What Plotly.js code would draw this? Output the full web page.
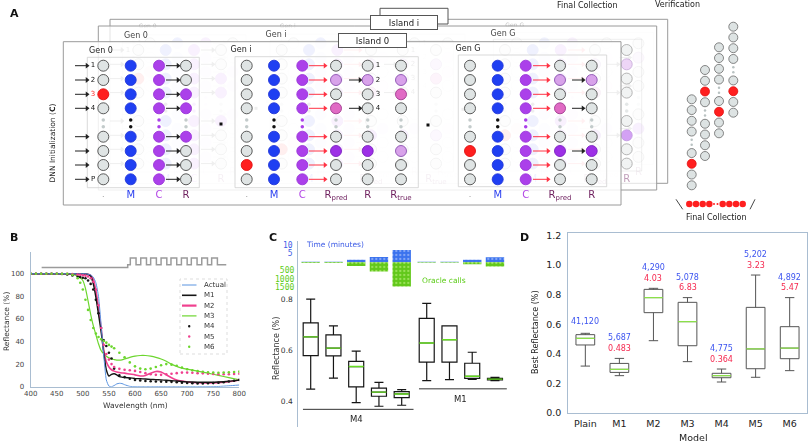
<!DOCTYPE html>
<html><head><meta charset="utf-8">
<script src="https://cdn.plot.ly/plotly-3.0.1.min.js"></script>
<style>html,body{margin:0;padding:0;background:#fff}#chart{width:808px;height:444px}</style>
</head><body><div id="chart"></div>
<script>
// ================= Panel B data =================
const wavelength = [400,450,480,490,500,505,510,515,520,525,530,535,540,545,550,555,560,565,570,575,580,590,600,610,620,630,640,650,660,670,680,690,700,720,740,760,780,800];
const reflActual = [100,100,100,100,100,100,99.5,99,97,92,80,55,28,6,0.5,0,1,2.5,3,2.8,1.8,0.3,0,0,0,0,0,0,0,0,0,0,0,0,0,0.2,0.8,1.5];
const reflM1 = [100,100,100,100,100,99.8,99.3,98,91,79,64,49,30,15,9.5,11,11.5,10.5,9,8.5,8.2,7.8,7.3,7,6.8,6.5,6.3,6,5.7,5.3,5,4.6,4.3,4,4,4.2,4.8,5.8];
const reflM2 = [100,100,100,100,100,99.8,99.5,98.5,95,85,70,52,33,22,17.5,15,13.8,13,12.5,12.2,12,11.2,10.5,9.5,10,12,13.5,13,10.5,8,6,5,4.2,3.5,3.3,3.6,4.5,6];
const reflM3 = [100,100,99.5,98,94,87,76,64,54,46,38,32,29,27,25.5,24.5,24,23.6,23.5,23.8,24.5,26,27,27.6,27.6,27,26,24.5,22.5,20,18,16.5,15.5,13.8,12,10,8,6];
const wavelengthDots = [400,410,420,430,440,450,460,470,480,490,495,500,505,510,515,520,525,530,535,540,545,550,555,560,570,580,590,600,610,620,630,640,650,660,670,680,690,700,710,720,730,740,750,760,770,780,790,800];
const reflM4 = [100,100,100,100,100,100,99.8,99.3,98.5,97.5,97,96.5,96,94,91,86,77,65,52,41,36,30,25,16,10,8.5,7,6,5.5,5,4.8,4.6,4.5,4.4,4.3,4,3.6,3.3,3,2.9,2.9,3,3.2,3.5,4,4.6,5.3,6];
const reflM5 = [100,100,100,100,100,100,100,100,99.7,99.3,99,98.7,98.3,97.5,96,93,86,72,52,37,29,24,20,17.5,15.8,15,14.5,14,13,12,11,10.5,10.5,11,11.5,12,12.5,12.5,12.3,12,11.8,11.5,11.3,11,11,11,11.2,11.5];
const reflM6 = [100,100,100,100,100,100,100,100,99,96,92,86,77,68,59,52,47,44,42,40.5,39,37,35.5,34,30,26,21.5,18,16,15.5,16,17.5,19,20,19.5,18.5,17,15.5,14.5,13.8,13.2,12.8,12.5,12.4,12.5,12.7,13,13.3];
const seriesNames = ['Actual','M1','M2','M3','M4','M5','M6'];
const seriesColors = ['#5b94e0','#151515','#f0408f','#6cd62e','#151515','#f0408f','#6cd62e'];
// layer structure sketch (wavelength axis)
const structFlatStart = 421, structStep = 586, structEnd = 775;
const structLevels = [105.5, 108, 114];
const structPulseStarts = [591, 611, 630, 650, 669, 689, 708, 728, 747];
const structPulseWidth = 11;

// ================= Panel C data =================
const groupC = ['M4','M1'];
const m4Low  = [0.449,0.492,0.396,0.382,0.386];
const m4Q1   = [0.580,0.579,0.458,0.421,0.416];
const m4Med  = [0.653,0.609,0.537,0.437,0.430];
const m4Q3   = [0.708,0.661,0.557,0.453,0.439];
const m4High = [0.800,0.696,0.597,0.475,0.447];
const m1Low  = [0.482,0.486,0.487,0.482];
const m1Q1   = [0.554,0.554,0.491,0.485];
const m1Med  = [0.629,0.642,0.499,0.488];
const m1Q3   = [0.725,0.696,0.550,0.491];
const m1High = [0.784,0.696,0.593,0.495];
const m4TimeMin = [0.3,0.35,1.5,3,7];
const m1TimeMin = [0.25,0.3,1.4,2.9];
const m4Calls = [35,40,220,560,1470];
const m1Calls = [25,30,120,250];

// ================= Panel D data =================
const modelsD = ['Plain','M1','M2','M3','M4','M5','M6'];
const dLow  = [0.316,0.251,0.488,0.346,0.208,0.240,0.285];
const dQ1   = [0.459,0.273,0.678,0.454,0.237,0.298,0.366];
const dMed  = [0.504,0.294,0.780,0.617,0.251,0.432,0.438];
const dQ3   = [0.529,0.334,0.836,0.748,0.267,0.714,0.583];
const dHigh = [0.538,0.368,0.843,0.780,0.296,0.933,0.780];
const dCalls = ['41,120','5,687','4,290','5,078','4,775','5,202','4,892'];
const dTimes = [null,'0.483','4.03','6.83','0.364','3.23','5.47'];

// ================= helpers =================
const W = 808, H = 444;
const fx = p => p / W;
const fy = p => 1 - p / H;
const FONT = 'DejaVu Sans, sans-serif';
const traces = [];
const shapes = [];
const annotations = [];
function note(o) { annotations.push(Object.assign({showarrow:false, xanchor:'center', yanchor:'middle'}, o)); }

// ================= Panel A (diagram, pixel-unit axes x4/y4) =================
const FILL = {g:'#dfe4e4', b:'#1f3ff2', p:'#ab40ea', r:'#ff1f1f', lp:'#d8a2ea', pk:'#e06ac4', P:'#9d2fe6', lg:'#c3cbcb', k:'#111111'};
const EDGE = {g:'#4a4a4a', b:'#2438d8', p:'#9a35d8', r:'#e01010', lp:'#8a50b0', pk:'#a03a90', P:'#7a20c0'};
const FOOTC = {'.':'#999','M':'#2a3ff0','C':'#b347e6','R':'#6e1f5e','R<sub>pred</sub>':'#6e1f5e','R<sub>true</sub>':'#6e1f5e'};
const rowY = [65.7, 80, 94.3, 108.3, 136.7, 151, 165, 179.3];
const dotRowY = [120, 126.7];
const footY = 195;
const ALL = [0,1,2,3,4,5,6,7];
const genBoxes = [
  {label:'Gen 0', lxy:[101,50.7], rect:[87.3,57.3,199.3,187.7],
   cols:[{x:103.3, fill:['g','g','r','g','g','g','g','g'], dots:'lg', foot:'.'},
         {x:130.7, fill:'b', dots:'k', foot:'M'},
         {x:159, fill:'p', dots:'p', foot:'C'},
         {x:186, fill:['g','g','p','p','p','g','g','g'], dots:'lg', foot:'R'}],
   arrows:[{x0:75,x1:89,rows:ALL,red:false},{x0:166,x1:180,rows:ALL,red:false}],
   rowLabels:{x:93, t:['1','2','3','4','','','','P'], c:['#111','#111','#ff2a2a','#111','#111','#111','#111','#111']}},
  {label:'Gen i', lxy:[241,50], rect:[235,56.7,418.3,187.7],
   cols:[{x:246.7, fill:['g','g','g','g','g','g','r','g'], dots:'lg', foot:'.'},
         {x:274, fill:'b', dots:'k', foot:'M'},
         {x:302.3, fill:'p', dots:'p', foot:'C'},
         {x:336, fill:['g','lp','g','pk','g','P','g','g'], dots:'lg', foot:'R<sub>pred</sub>'},
         {x:367.7, fill:['g','lp','g','g','g','P','g','g'], dots:'lg', foot:'R'},
         {x:401, fill:['g','lp','pk','g','g','lp','g','g'], dots:'lg', foot:'R<sub>true</sub>'}],
   arrows:[{x0:309,x1:327,rows:ALL,red:true},{x0:349,x1:362,rows:[1,3],red:false}],
   rowLabels:{x:378, t:['1','2','3','4','','','',''], c:['#111','#111','#111','#111','#111','#111','#111','#111']}},
  {label:'Gen G', lxy:[468,49.3], rect:[458.3,55,606.7,186.7],
   cols:[{x:470, fill:['g','g','g','g','g','r','g','g'], dots:'lg', foot:'.'},
         {x:497.7, fill:'b', dots:'k', foot:'M'},
         {x:525.7, fill:'p', dots:'p', foot:'C'},
         {x:560, fill:['g','lp','g','pk','g','P','g','g'], dots:'lg', foot:'R<sub>pred</sub>'},
         {x:591.7, fill:['g','lp','g','g','g','P','g','g'], dots:'lg', foot:'R'}],
   arrows:[{x0:533,x1:550,rows:ALL,red:true},{x0:572,x1:585,rows:[1,3,5],red:false}],
   rowLabels:null}
];
const looseDots = [[221,124],[428,125]];

function frameTraces(dx, dy, op, textOp, labelSize, labelDy) {
  const T = [];
  const bx=[], by=[], cx=[], cy=[], cc=[], cl=[], qx=[], qy=[], qc=[];
  const ks={x:[],y:[]}, kh={x:[],y:[]}, rs={x:[],y:[]}, rh={x:[],y:[]};
  const tx=[], ty=[], tt=[], tc=[], tsz=[];
  genBoxes.forEach(g => {
    const [x0,y0,x1,y1] = g.rect;
    bx.push(x0+dx,x1+dx,x1+dx,x0+dx,x0+dx,null); by.push(y0+dy,y0+dy,y1+dy,y1+dy,y0+dy,null);
    g.cols.forEach(c => {
      rowY.forEach((y,i) => {
        const k = Array.isArray(c.fill) ? c.fill[i] : c.fill;
        cx.push(c.x+dx); cy.push(y+dy); cc.push(FILL[k]); cl.push(EDGE[k]);
      });
      dotRowY.forEach(y => { qx.push(c.x+dx); qy.push(y+dy); qc.push(FILL[c.dots]); });
      tx.push(c.x+dx); ty.push(footY+dy); tt.push(c.foot); tc.push(FOOTC[c.foot]); tsz.push(c.foot==='.'?8:10);
    });
    g.arrows.forEach(a => {
      const S = a.red ? rs : ks, Hd = a.red ? rh : kh;
      a.rows.forEach(r => {
        const y = rowY[r]+dy;
        S.x.push(a.x0+dx, a.x1+dx-3, null); S.y.push(y, y, null);
        Hd.x.push(a.x1+dx-2); Hd.y.push(y);
      });
    });
    if (g.rowLabels) g.rowLabels.t.forEach((t,i) => {
      if (!t) return;
      tx.push(g.rowLabels.x+dx); ty.push(rowY[i]+dy); tt.push(t); tc.push(g.rowLabels.c[i]); tsz.push(7);
    });
  });
  const base = {xaxis:'x4', yaxis:'y4', hoverinfo:'skip', showlegend:false, opacity:op};
  T.push({...base, type:'scatter', mode:'lines', x:bx, y:by, line:{color:'#cfcfcf', width:0.8}});
  T.push({...base, type:'scatter', mode:'lines', x:ks.x, y:ks.y, line:{color:'#222', width:1}});
  T.push({...base, type:'scatter', mode:'markers', x:kh.x, y:kh.y, marker:{symbol:'triangle-right', size:5, color:'#222'}});
  T.push({...base, type:'scatter', mode:'lines', x:rs.x, y:rs.y, line:{color:'#ff3344', width:1}});
  T.push({...base, type:'scatter', mode:'markers', x:rh.x, y:rh.y, marker:{symbol:'triangle-right', size:5, color:'#ff3344'}});
  T.push({...base, type:'scatter', mode:'markers', x:cx, y:cy, marker:{size:11, color:cc, line:{color:cl, width:0.9}}});
  T.push({...base, type:'scatter', mode:'markers', x:qx, y:qy, marker:{size:3.5, color:qc}});
  T.push({...base, type:'scatter', mode:'markers', x:looseDots.map(d=>d[0]+dx), y:looseDots.map(d=>d[1]+dy), marker:{symbol:'square', size:3, color:'#111'}});
  T.push({...base, type:'scatter', mode:'text', x:tx, y:ty, text:tt, textposition:'middle center', textfont:{family:FONT, size:tsz, color:tc}});
  T.push({...base, opacity:textOp, type:'scatter', mode:'text', x:genBoxes.map(g=>g.lxy[0]+dx), y:genBoxes.map(g=>g.lxy[1]+dy+labelDy), text:genBoxes.map(g=>g.label), textposition:'middle center', textfont:{family:FONT, size:labelSize, color:'#222'}});
  return T;
}
function rectTrace(r, fill) {
  const [x0,y0,x1,y1] = r;
  return {type:'scatter', mode:'lines', xaxis:'x4', yaxis:'y4', x:[x0,x1,x1,x0,x0], y:[y0,y0,y1,y1,y0],
    fill:'toself', fillcolor:fill, line:{color:'#9a9a9a', width:1}, hoverinfo:'skip', showlegend:false};
}
traces.push(rectTrace([110,19.3,667.7,183.3], '#ffffff'));
traces.push(...frameTraces(46.7,-22.4,0.25,0.3,6,-1.5));
traces.push(rectTrace([98.3,26,656.7,190], 'rgba(255,255,255,0.72)'));
traces.push(...frameTraces(35,-15.7,0.45,0.85,8,0.5));
traces.push(rectTrace([63.3,41.7,621,205], 'rgba(255,255,255,0.84)'));
traces.push(...frameTraces(0,0,1,1,8,0));

// verification columns
const verX = [691.7, 705, 719, 733.3];
const verTop = [99.3, 70, 47.3, 26.7];
const verRedSlot = [6, 2, 6, 6];
const verSlots = 9, verDotSlot = 4, verGap = 10.75;
{
  const vx=[], vy=[], vc=[], vl=[], dx=[], dy=[];
  verX.forEach((x,ci) => {
    for (let s=0; s<verSlots; s++) {
      const y = verTop[ci] + s*verGap;
      if (s === verDotSlot) { dx.push(x,x); dy.push(y-2.5,y+2.5); continue; }
      const red = s === verRedSlot[ci];
      vx.push(x); vy.push(y); vc.push(red?'#ff1f1f':'#dde3e3'); vl.push(red?'#e01010':'#6a6a6a');
    }
  });
  traces.push({type:'scatter', mode:'markers', xaxis:'x4', yaxis:'y4', x:vx, y:vy, marker:{size:9, color:vc, line:{color:vl, width:0.8}}, hoverinfo:'skip', showlegend:false});
  traces.push({type:'scatter', mode:'markers', xaxis:'x4', yaxis:'y4', x:dx, y:dy, marker:{size:2.5, color:'#b9c2c2'}, hoverinfo:'skip', showlegend:false});
  traces.push({type:'scatter', mode:'lines', xaxis:'x4', yaxis:'y4', x:[676,682.7,null,755,750], y:[199.3,209.3,null,199.3,209.3], line:{color:'#333', width:0.9}, hoverinfo:'skip', showlegend:false});
  const fcX = [689.3,696,702.7,709.3,722.7,729.3,736,742.7];
  traces.push({type:'scatter', mode:'markers', xaxis:'x4', yaxis:'y4', x:fcX, y:fcX.map(()=>204), marker:{size:6.5, color:'#ff1f1f'}, hoverinfo:'skip', showlegend:false});
  traces.push({type:'scatter', mode:'markers', xaxis:'x4', yaxis:'y4', x:[714,717.5], y:[204,204], marker:{size:2, color:'#ff1f1f'}, hoverinfo:'skip', showlegend:false});
}
// island label boxes
shapes.push({type:'rect', xref:'x4', yref:'y4', x0:380, x1:448, y0:8.3, y1:24, line:{color:'#555', width:1}, fillcolor:'#fff', layer:'above'});
note({xref:'x4', yref:'y4', x:403.8, y:22, text:'Island i', font:{family:FONT, size:8.5, color:'#222'}, bgcolor:'#fff', bordercolor:'#555', borderwidth:1, width:64, height:11, borderpad:1});
note({xref:'x4', yref:'y4', x:372.3, y:40.8, text:'Island 0', font:{family:FONT, size:8.5, color:'#222'}, bgcolor:'#fff', bordercolor:'#555', borderwidth:1, width:65, height:11, borderpad:1});
note({xref:'x4', yref:'y4', x:51.5, y:143, text:'DNN Initialization (<b>C</b>)', textangle:-90, font:{family:FONT, size:7.5, color:'#222'}});
note({xref:'x4', yref:'y4', x:587.5, y:5.5, text:'Final Collection', font:{family:FONT, size:8, color:'#222'}});
note({xref:'x4', yref:'y4', x:677, y:4.5, text:'Verification', font:{family:FONT, size:8, color:'#222'}});
note({xref:'x4', yref:'y4', x:716, y:217.7, text:'Final Collection', font:{family:FONT, size:8, color:'#222'}});

// ================= Panel B traces =================
{
  const bxs = {xaxis:'x', yaxis:'y', hoverinfo:'skip', showlegend:false};
  const sx = [structFlatStart, structStep, structStep], sy = [structLevels[0], structLevels[0], structLevels[1]];
  structPulseStarts.forEach(s => { sx.push(s, s, s+structPulseWidth, s+structPulseWidth); sy.push(structLevels[1], structLevels[2], structLevels[2], structLevels[1]); });
  sx.push(structEnd); sy.push(structLevels[1]);
  traces.push({...bxs, type:'scatter', mode:'lines', x:sx, y:sy, line:{color:'#9b9b9b', width:1.5}, cliponaxis:false});
  const lineSeries = [reflActual, reflM1, reflM2, reflM3];
  const lineWidths = [1, 1.4, 1.6, 1.2];
  [3,2,1,0].forEach(i => traces.push({...bxs, type:'scatter', mode:'lines', x:wavelength, y:lineSeries[i], line:{color:seriesColors[i], width:lineWidths[i], shape:'spline', smoothing:0.5}}));
  const dotSeries = [reflM4, reflM5, reflM6];
  dotSeries.forEach((s,j) => traces.push({...bxs, type:'scatter', mode:'markers', x:wavelengthDots, y:s, marker:{size:2.6, color:seriesColors[4+j]}}));
  // manual legend
  shapes.push({type:'rect', xref:'paper', yref:'paper', x0:fx(180), x1:fx(227), y0:fy(354), y1:fy(279), line:{color:'#dddddd', width:1, dash:'dot'}, fillcolor:'rgba(255,255,255,0.8)', layer:'above'});
  seriesNames.forEach((n,i) => {
    const yy = 285 + i*10.3;
    if (i < 4) shapes.push({type:'line', xref:'paper', yref:'paper', x0:fx(182), x1:fx(196.5), y0:fy(yy), y1:fy(yy), line:{color:seriesColors[i], width:[1,1.6,2.2,1.2][i]}, layer:'above'});
    else shapes.push({type:'circle', xref:'paper', yref:'paper', x0:fx(188), x1:fx(190.4), y0:fy(yy+1.2), y1:fy(yy-1.2), fillcolor:seriesColors[i], line:{width:0}, layer:'above'});
    note({xref:'paper', yref:'paper', x:fx(201.5), y:fy(yy), xanchor:'left', text:n, font:{family:FONT, size:7, color:'#333'}});
  });
  note({xref:'paper', yref:'paper', x:fx(135), y:fy(405.5), text:'Wavelength (nm)', font:{family:FONT, size:7.5, color:'#333'}});
  note({xref:'paper', yref:'paper', x:fx(6), y:fy(322), text:'Reflectance (%)', textangle:-90, font:{family:FONT, size:7.5, color:'#333'}});
}

// ================= Panel C traces =================
const posM4 = m4Low.map((_,i) => i);
const posM1 = m1Low.map((_,i) => 5.1 + i);
const boxWC = 0.66, barWC = 0.81;
{
  const pos = posM4.concat(posM1);
  const lo = m4Low.concat(m1Low), q1 = m4Q1.concat(m1Q1), md = m4Med.concat(m1Med), q3 = m4Q3.concat(m1Q3), hi = m4High.concat(m1High);
  traces.push({type:'box', xaxis:'x2', yaxis:'y2', x:pos, lowerfence:lo, q1:q1, median:md, q3:q3, upperfence:hi, width:boxWC, whiskerwidth:0.6,
    fillcolor:'#ffffff', line:{color:'#151515', width:1.2}, boxpoints:false, hoverinfo:'skip', showlegend:false});
  const mx=[], my=[];
  pos.forEach((p,i) => { mx.push(p-boxWC/2, p+boxWC/2, null); my.push(md[i], md[i], null); });
  traces.push({type:'scatter', mode:'lines', xaxis:'x2', yaxis:'y2', x:mx, y:my, line:{color:'#66dd22', width:1.4}, hoverinfo:'skip', showlegend:false});
  const tm = m4TimeMin.concat(m1TimeMin), cl = m4Calls.concat(m1Calls);
  traces.push({type:'bar', xaxis:'x2', yaxis:'y6', x:pos, y:cl, width:barWC, marker:{color:'#62c81a', line:{width:0}, pattern:{shape:'.', bgcolor:'#62c81a', fgcolor:'#9be25a', size:4, solidity:0.25}}, hoverinfo:'skip', showlegend:false});
  traces.push({type:'bar', xaxis:'x2', yaxis:'y5', x:pos, y:tm, width:barWC, marker:{color:'#3a72ee', line:{width:0}, pattern:{shape:'.', bgcolor:'#3a72ee', fgcolor:'#86a8f6', size:4, solidity:0.25}}, hoverinfo:'skip', showlegend:false});
  const groupPos = [posM4, posM1];
  const groupLineY = [0.370, 0.450];
  groupPos.forEach((gp,gi) => {
    const a = gp[0]-0.34, b = gp[gp.length-1]+0.52;
    shapes.push({type:'line', xref:'x2', yref:'y2', x0:a, x1:b, y0:groupLineY[gi], y1:groupLineY[gi], line:{color:'#333', width:1}});
    note({xref:'x2', yref:'y2', x:(gp[0]+gp[gp.length-1])/2, y:groupLineY[gi], yanchor:'top', yshift:-3, text:groupC[gi], font:{family:FONT, size:8.5, color:'#222'}});
  });
  note({xref:'paper', yref:'paper', x:fx(335), y:fy(244.5), text:'Time (minutes)', font:{family:FONT, size:7.5, color:'#3d5ce6'}});
  note({xref:'paper', yref:'paper', x:fx(444), y:fy(280.5), text:'Oracle calls', font:{family:FONT, size:7.5, color:'#5ccc18'}});
  note({xref:'paper', yref:'paper', x:fx(276), y:fy(349), text:'Reflectance (%)', textangle:-90, font:{family:FONT, size:8, color:'#333'}});
}

// ================= Panel D traces =================
const posD = modelsD.map((_,i) => i);
const boxWD = 0.55;
{
  traces.push({type:'box', xaxis:'x3', yaxis:'y3', x:posD, lowerfence:dLow, q1:dQ1, median:dMed, q3:dQ3, upperfence:dHigh, width:boxWD, whiskerwidth:0.5,
    fillcolor:'#ffffff', line:{color:'#555555', width:1}, boxpoints:false, hoverinfo:'skip', showlegend:false});
  const mx=[], my=[];
  posD.forEach((p,i) => { mx.push(p-boxWD/2, p+boxWD/2, null); my.push(dMed[i], dMed[i], null); });
  traces.push({type:'scatter', mode:'lines', xaxis:'x3', yaxis:'y3', x:mx, y:my, line:{color:'#8be04a', width:1.2}, hoverinfo:'skip', showlegend:false});
  posD.forEach((p,i) => {
    if (dTimes[i]) note({xref:'x3', yref:'y3', x:p, y:dHigh[i], yanchor:'bottom', yshift:3.5, text:dTimes[i], font:{family:FONT, size:8, color:'#f5284f'}});
    note({xref:'x3', yref:'y3', x:p, y:dHigh[i], yanchor:'bottom', yshift:dTimes[i]?14:5, text:dCalls[i], font:{family:FONT, size:8, color:'#3d55f0'}});
  });
  note({xref:'paper', yref:'paper', x:fx(693), y:fy(437.5), text:'Model', font:{family:FONT, size:9.5, color:'#222'}});
  note({xref:'paper', yref:'paper', x:fx(535), y:fy(332), text:'Best Reflectance (%)', textangle:-90, font:{family:FONT, size:8, color:'#222'}});
}

// panel letters
[['A',14,13],['B',14,238],['C',273,237],['D',524,237]].forEach(([t,x,y]) =>
  note({xref:'paper', yref:'paper', x:fx(x), y:fy(y), text:'<b>'+t+'</b>', font:{family:FONT, size:11, color:'#111'}}));

const spine = '#a9bdd1';
const layout = {
  width:W, height:H, margin:{l:0,r:0,t:0,b:0}, paper_bgcolor:'#fff', plot_bgcolor:'rgba(0,0,0,0)',
  font:{family:FONT, size:8, color:'#333'}, showlegend:false, hovermode:false, barmode:'overlay',
  xaxis:{domain:[fx(30.7), fx(239.3)], anchor:'y', range:[400,800], tickvals:[400,450,500,550,600,650,700,750,800], showgrid:false, zeroline:false,
         showline:true, linecolor:spine, ticks:'', ticklabelstandoff:0, tickfont:{size:7, color:'#444'}},
  yaxis:{domain:[fy(386.7), fy(251.7)], anchor:'x', range:[0,119.5], tickvals:[0,20,40,60,80,100], showgrid:false, zeroline:false,
         showline:true, linecolor:spine, ticks:'', ticklabelstandoff:4, tickfont:{size:7, color:'#444'}},
  xaxis2:{domain:[fx(298.3), fx(520)], anchor:'y2', range:[-0.545, 9.2], visible:false},
  yaxis2:{domain:[fy(427), fy(290)], anchor:'x2', range:[0.301, 0.836], tickvals:[0.4,0.6,0.8], showgrid:false, zeroline:false,
          showline:true, linecolor:spine, ticks:'', ticklabelstandoff:3, tickfont:{size:7.5, color:'#333'}},
  yaxis5:{domain:[fy(290), fy(241)], anchor:'x2', range:[-15.83, 12.17], tickvals:[5,10], showgrid:false, zeroline:false,
          showline:true, linecolor:spine, ticks:'', ticklabelstandoff:3, tickfont:{family:'DejaVu Sans Mono, monospace', size:8, color:'#3d5ce6'}},
  yaxis6:{overlaying:'y5', anchor:'x2', side:'left', range:[1679, -1291], tickvals:[500,1000,1500], showgrid:false, zeroline:false,
          showline:false, ticks:'', ticklabelstandoff:3, tickfont:{family:'DejaVu Sans Mono, monospace', size:8, color:'#5ccc18'}},
  xaxis3:{domain:[fx(568.3), fx(806.7)], anchor:'y3', range:[-0.5,6.5], tickvals:posD, ticktext:modelsD, showgrid:false, zeroline:false,
          showline:true, mirror:true, linecolor:spine, ticks:'', ticklabelstandoff:2, tickfont:{size:9.5, color:'#222'}},
  yaxis3:{domain:[fy(412.7), fy(232.7)], anchor:'x3', range:[0,1.22], tickvals:[0,0.2,0.4,0.6,0.8,1.0,1.2], tickformat:'.1f', showgrid:false, zeroline:false,
          showline:true, mirror:true, linecolor:spine, ticks:'', ticklabelstandoff:4, tickfont:{size:9.5, color:'#222'}},
  xaxis4:{domain:[0,1], anchor:'y4', range:[0,808], visible:false, fixedrange:true},
  yaxis4:{domain:[fy(230),1], anchor:'x4', range:[230,0], visible:false, fixedrange:true},
  shapes:shapes, annotations:annotations
};
Plotly.newPlot('chart', traces, layout, {staticPlot:true, displayModeBar:false});
</script></body></html>
